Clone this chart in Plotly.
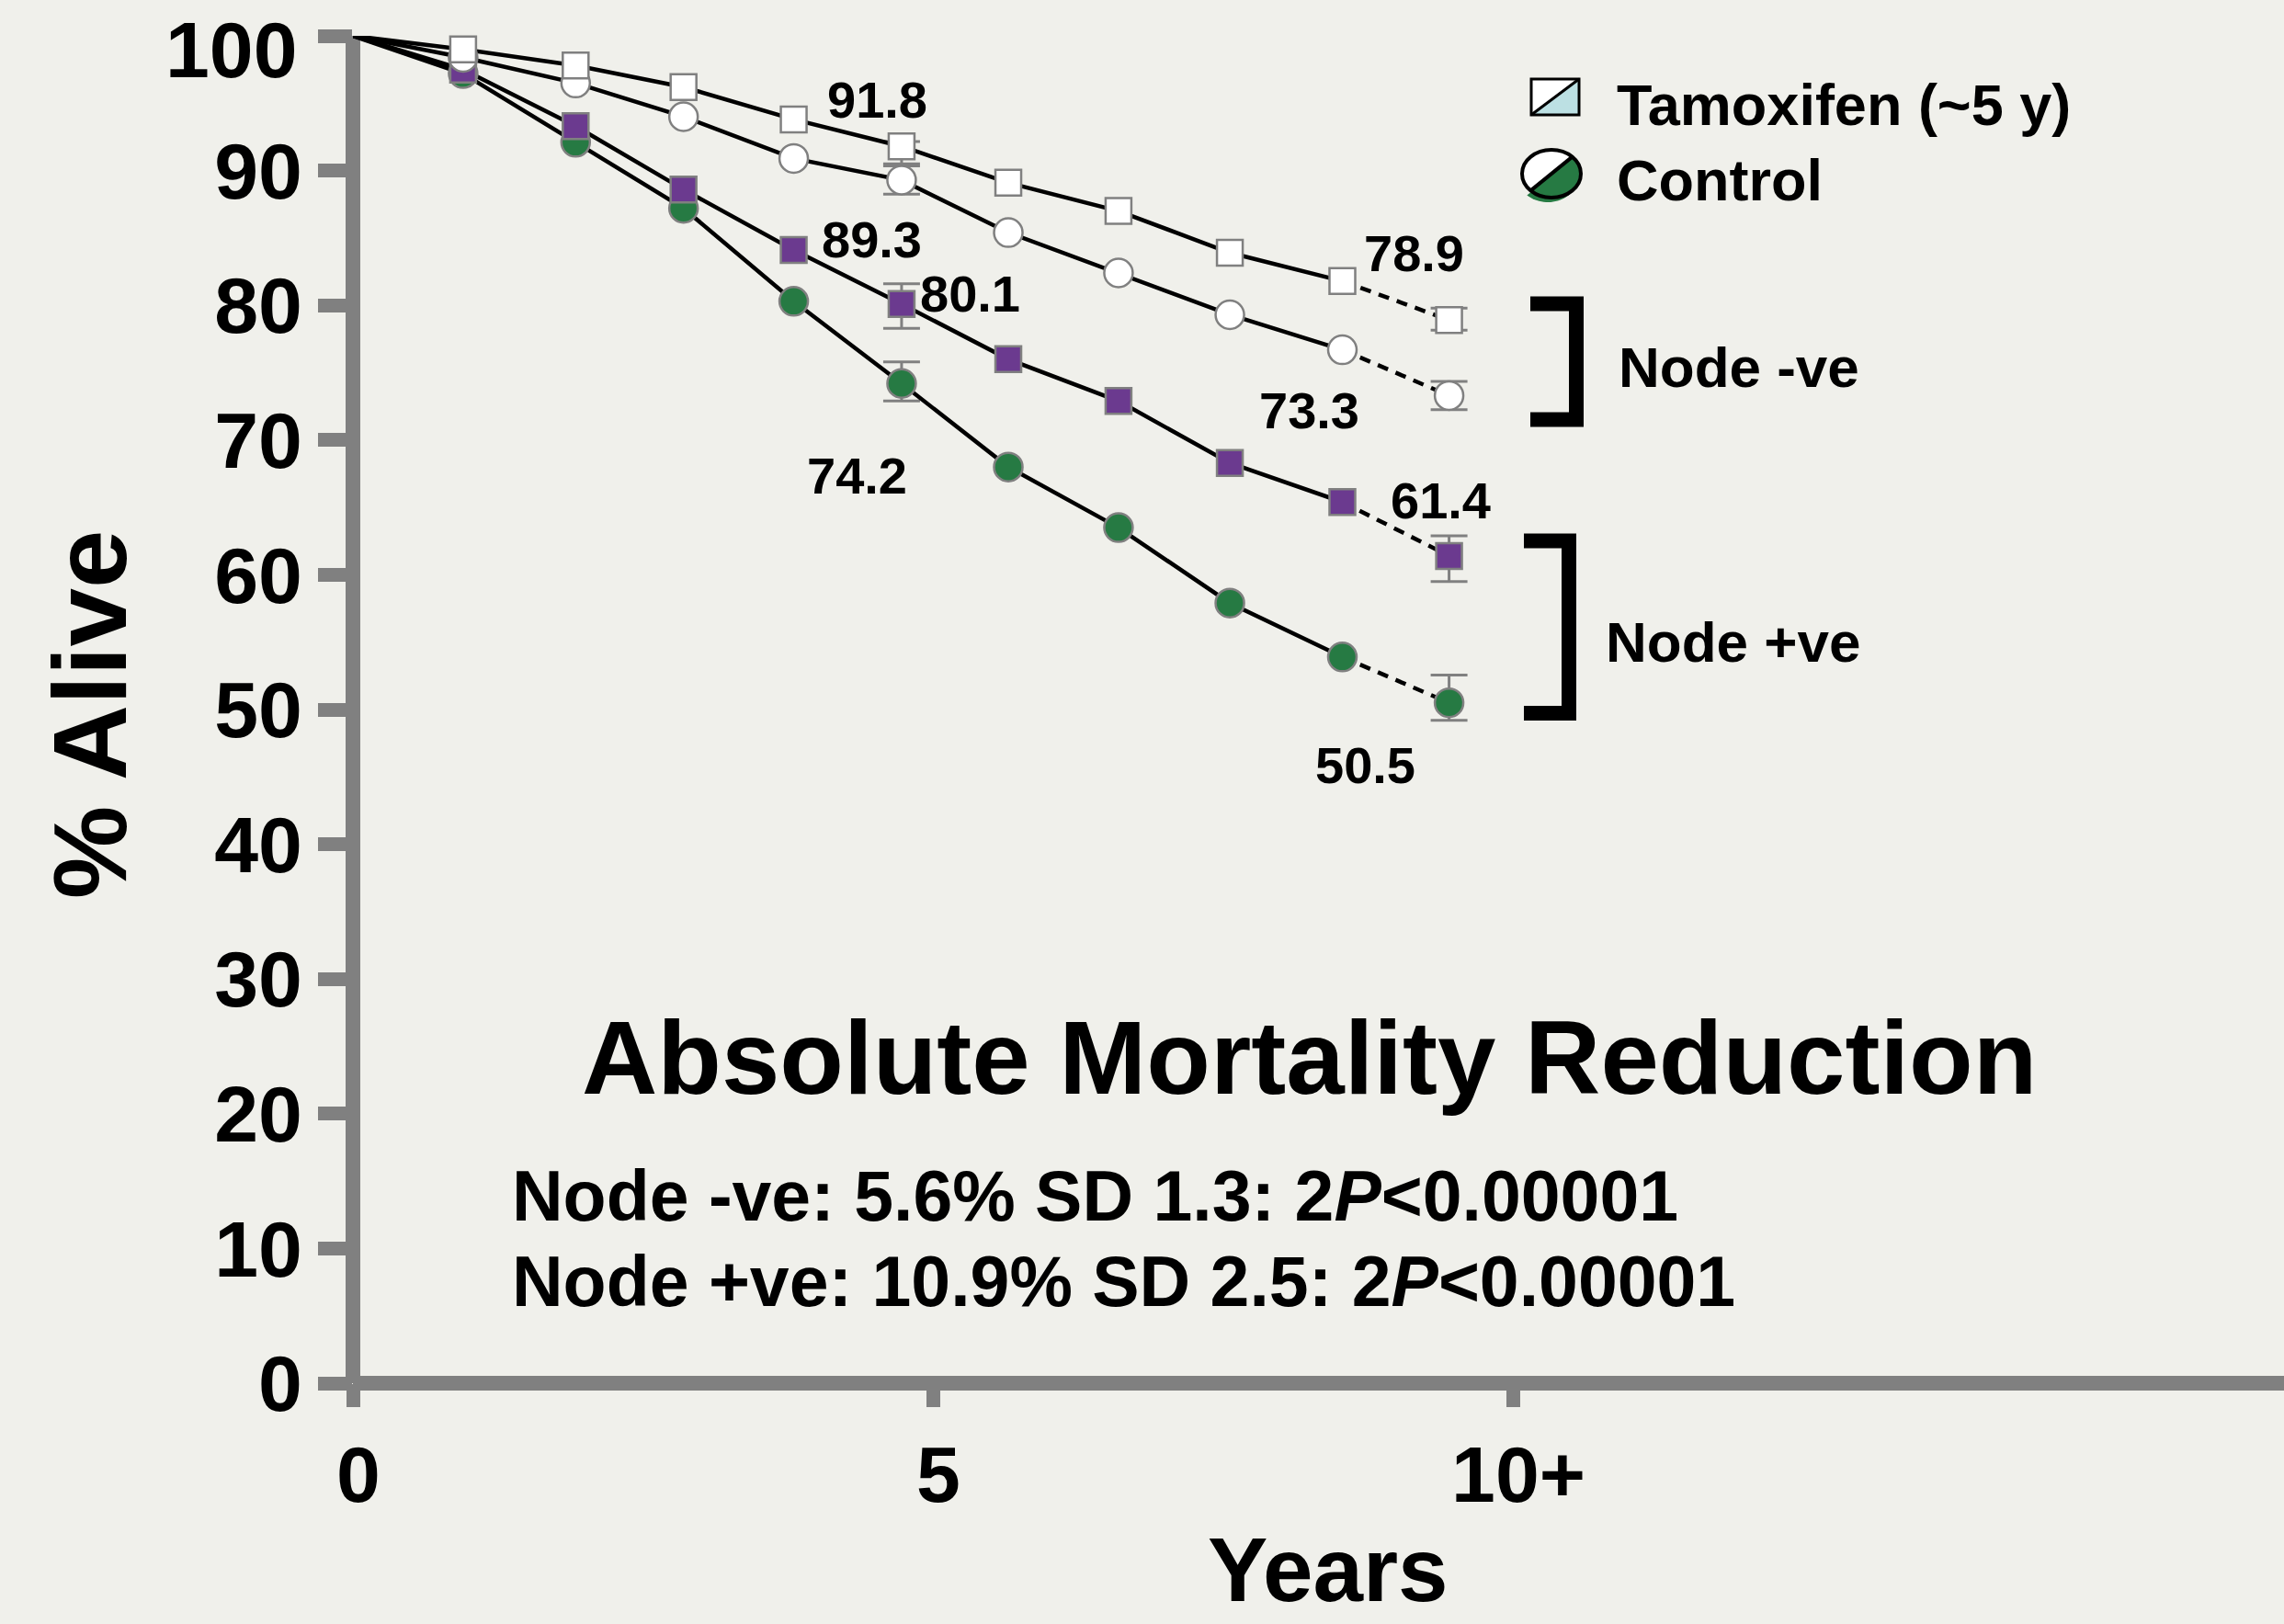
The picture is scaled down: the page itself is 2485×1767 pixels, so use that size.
import numpy as np
import plotly.graph_objects as go

# ---- data -------------------------------------------------------------
years = [0, 0.95, 1.92, 2.85, 3.80, 4.73, 5.65, 6.60, 7.56, 8.53, 9.45]

tam_neg = [100, 99.0, 97.8, 96.2, 93.8, 91.8, 89.1, 87.0, 83.9, 81.8, 78.9]
ctl_neg = [100, 98.4, 96.5, 94.0, 90.9, 89.3, 85.4, 82.4, 79.3, 76.7, 73.3]
tam_pos = [100, 97.5, 93.3, 88.6, 84.1, 80.1, 76.0, 72.9, 68.3, 65.4, 61.4]
ctl_pos = [100, 97.2, 92.1, 87.2, 80.3, 74.2, 68.0, 63.5, 57.9, 53.9, 50.5]

# error bars are shown at the 5-year and 10-year points only
err_idx = [5, 10]
tam_neg_err_hi = [0.35, 0.90]
tam_neg_err_lo = [1.30, 0.75]
ctl_neg_err_hi = [1.05, 1.05]
ctl_neg_err_lo = [1.05, 1.05]
tam_pos_err_hi = [1.50, 1.50]
tam_pos_err_lo = [1.80, 1.90]
ctl_pos_err_hi = [1.60, 2.05]
ctl_pos_err_lo = [1.30, 1.30]

x_tick_vals = [0, 5, 10]
x_tick_text = ["0", "5", "10+"]
y_tick_vals = list(range(0, 101, 10))
# the top label is placed separately so it stays inside the page
y_tick_text = [str(v) if v < 100 else "" for v in y_tick_vals]

# ---- geometry ---------------------------------------------------------
W, H = 2485, 1767
L, R, T, B = 384, 0, 39, 262
PW, PH = W - L - R, H - T - B
PX_PER_YEAR = 126.2
X_MAX = PW / PX_PER_YEAR

FONT = "Liberation Sans, Arial, sans-serif"
GREY = "#808080"
BG = "#F0F0EB"
PURPLE = "#6B3A8F"
GREEN = "#267A43"
LIGHTBLUE = "#BCE0E3"


def pxx(px):
    """pixel x -> paper fraction"""
    return (px - L) / PW


def pxy(py):
    """pixel y -> paper fraction"""
    return (H - B - py) / PH


fig = go.Figure()

series = [
    # values, err hi, err lo, symbol, fill, size
    (ctl_pos, ctl_pos_err_hi, ctl_pos_err_lo, "circle", GREEN, 31),
    (tam_pos, tam_pos_err_hi, tam_pos_err_lo, "square", PURPLE, 28),
    (ctl_neg, ctl_neg_err_hi, ctl_neg_err_lo, "circle", "white", 31),
    (tam_neg, tam_neg_err_hi, tam_neg_err_lo, "square", "white", 28),
]

# error bars underneath everything
for vals, ehi, elo, sym, fill, size in series:
    fig.add_trace(go.Scatter(
        x=[years[i] for i in err_idx], y=[vals[i] for i in err_idx],
        mode="markers", marker=dict(size=1, color="rgba(0,0,0,0)"),
        error_y=dict(type="data", symmetric=False, array=ehi, arrayminus=elo,
                     color=GREY, thickness=3, width=20),
        cliponaxis=False, hoverinfo="skip", showlegend=False))

# connecting lines: solid to year 9, dashed to the 10+ point
for vals, ehi, elo, sym, fill, size in series:
    fig.add_trace(go.Scatter(
        x=years[:10], y=vals[:10], mode="lines",
        line=dict(color="black", width=4.5),
        cliponaxis=False, hoverinfo="skip", showlegend=False))
    fig.add_trace(go.Scatter(
        x=years[9:], y=vals[9:], mode="lines",
        line=dict(color="black", width=4.5, dash="12px,9px"),
        cliponaxis=False, hoverinfo="skip", showlegend=False))

# markers on top
for vals, ehi, elo, sym, fill, size in series:
    fig.add_trace(go.Scatter(
        x=years[1:], y=vals[1:], mode="markers",
        marker=dict(symbol=sym, size=size, color=fill,
                    line=dict(color=GREY, width=2.5)),
        cliponaxis=False, showlegend=False))

annotations = []


def text(px, py, s, size, xanchor="center", **kw):
    annotations.append(dict(
        x=pxx(px), y=pxy(py), xref="paper", yref="paper", text=s,
        showarrow=False, xanchor=xanchor, yanchor="middle",
        font=dict(family=FONT, size=size, color="black", weight="bold"), **kw))


# top y tick label
text(326, 54, str(y_tick_vals[-1]), 86, xanchor="right")

# value labels
lbl = 56
text(954, 108, f"{tam_neg[5]:.1f}", lbl)
text(948, 260, f"{ctl_neg[5]:.1f}", lbl)
text(1055, 319, f"{tam_pos[5]:.1f}", lbl)
text(932, 517, f"{ctl_pos[5]:.1f}", lbl)
text(1538, 275, f"{tam_neg[10]:.1f}", lbl)
text(1424, 446, f"{ctl_neg[10]:.1f}", lbl)
text(1567, 544, f"{tam_pos[10]:.1f}", lbl)
text(1485, 832, f"{ctl_pos[10]:.1f}", lbl)

# legend text
text(1757, 114, "Tamoxifen (~5 y)", 63, xanchor="left")
text(1757, 196, "Control", 63, xanchor="left")

# group labels
text(1759, 400, "Node -ve", 62, xanchor="left")
text(1745, 698, "Node +ve", 62, xanchor="left")

# summary text
text(1424, 1150, "Absolute Mortality Reduction", 114)
text(555, 1301, "Node -ve: 5.6% SD 1.3: 2<i>P</i>&lt;0.00001", 77, xanchor="left")
text(555, 1394, "Node +ve: 10.9% SD 2.5: 2<i>P</i>&lt;0.00001", 77, xanchor="left")

# axis titles
text(1445, 1708, "Years", 98)
text(97, 778, "% Alive", 114, textangle=-90)

shapes = []


def poly(points, **kw):
    d = "M " + " L ".join(f"{pxx(a):.5f},{pxy(b):.5f}" for a, b in points) + " Z"
    shapes.append(dict(type="path", xref="paper", yref="paper", path=d, **kw))


def polyline(points, **kw):
    d = "M " + " L ".join(f"{pxx(a):.5f},{pxy(b):.5f}" for a, b in points)
    shapes.append(dict(type="path", xref="paper", yref="paper", path=d, **kw))


# brackets
polyline([(1665, 330.5), (1715, 330.5), (1715, 456.5), (1665, 456.5)],
         line=dict(color="black", width=16))
polyline([(1658, 588.5), (1707, 588.5), (1707, 776), (1658, 776)],
         line=dict(color="black", width=16))

# legend icon: split square
sx0, sx1, sy0, sy1 = 1666, 1718, 86, 125
poly([(sx0, sy0), (sx1, sy0), (sx0, sy1)], fillcolor="white", line=dict(width=0))
poly([(sx1, sy0), (sx1, sy1), (sx0, sy1)], fillcolor=LIGHTBLUE, line=dict(width=0))
poly([(sx0, sy0), (sx1, sy0), (sx1, sy1), (sx0, sy1)], line=dict(color="black", width=3))
polyline([(sx0, sy1), (sx1, sy0)], line=dict(color="black", width=3))

# legend icon: split ellipse
cx, cy, rx, ry = 1688, 189, 32, 26
t_hi = np.radians(np.linspace(45, 225, 40))
t_lo = np.radians(np.linspace(225, 405, 40))
half_hi = [(cx + rx * np.cos(t), cy - ry * np.sin(t)) for t in t_hi]
half_lo = [(cx + rx * np.cos(t), cy - ry * np.sin(t)) for t in t_lo]
poly([(a - 4, b + 5) for a, b in half_lo], fillcolor=GREEN, line=dict(width=0))
poly(half_lo, fillcolor=GREEN, line=dict(width=0))
poly(half_hi, fillcolor="white", line=dict(width=0))
shapes.append(dict(type="circle", xref="paper", yref="paper",
                   x0=pxx(cx - rx), x1=pxx(cx + rx), y0=pxy(cy + ry), y1=pxy(cy - ry),
                   line=dict(color="black", width=4)))
polyline([half_lo[0], half_hi[0]], line=dict(color="black", width=4))

tick_font = dict(family=FONT, size=86, color="black", weight="bold")

fig.update_layout(
    width=W, height=H,
    margin=dict(l=L, r=R, t=T, b=B, pad=0, autoexpand=False),
    paper_bgcolor=BG, plot_bgcolor=BG,
    showlegend=False,
    annotations=annotations,
    shapes=shapes,
    xaxis=dict(range=[0, X_MAX], showgrid=False, showline=False, automargin=False,
               zeroline=True, zerolinecolor=GREY, zerolinewidth=16,
               tickmode="array", tickvals=x_tick_vals, ticktext=x_tick_text,
               ticks="outside", ticklen=25, tickwidth=15, tickcolor=GREY,
               ticklabelshift=6, ticklabeloverflow="allow",
               tickfont=tick_font, fixedrange=True),
    yaxis=dict(range=[0, 100.001], showgrid=False, showline=False, automargin=False,
               zeroline=True, zerolinecolor=GREY, zerolinewidth=16,
               tickmode="array", tickvals=y_tick_vals, ticktext=y_tick_text,
               ticks="outside", ticklen=37, tickwidth=15, tickcolor=GREY,
               ticklabeloverflow="allow",
               tickfont=tick_font, fixedrange=True),
)

fig.write_html("out.html")
